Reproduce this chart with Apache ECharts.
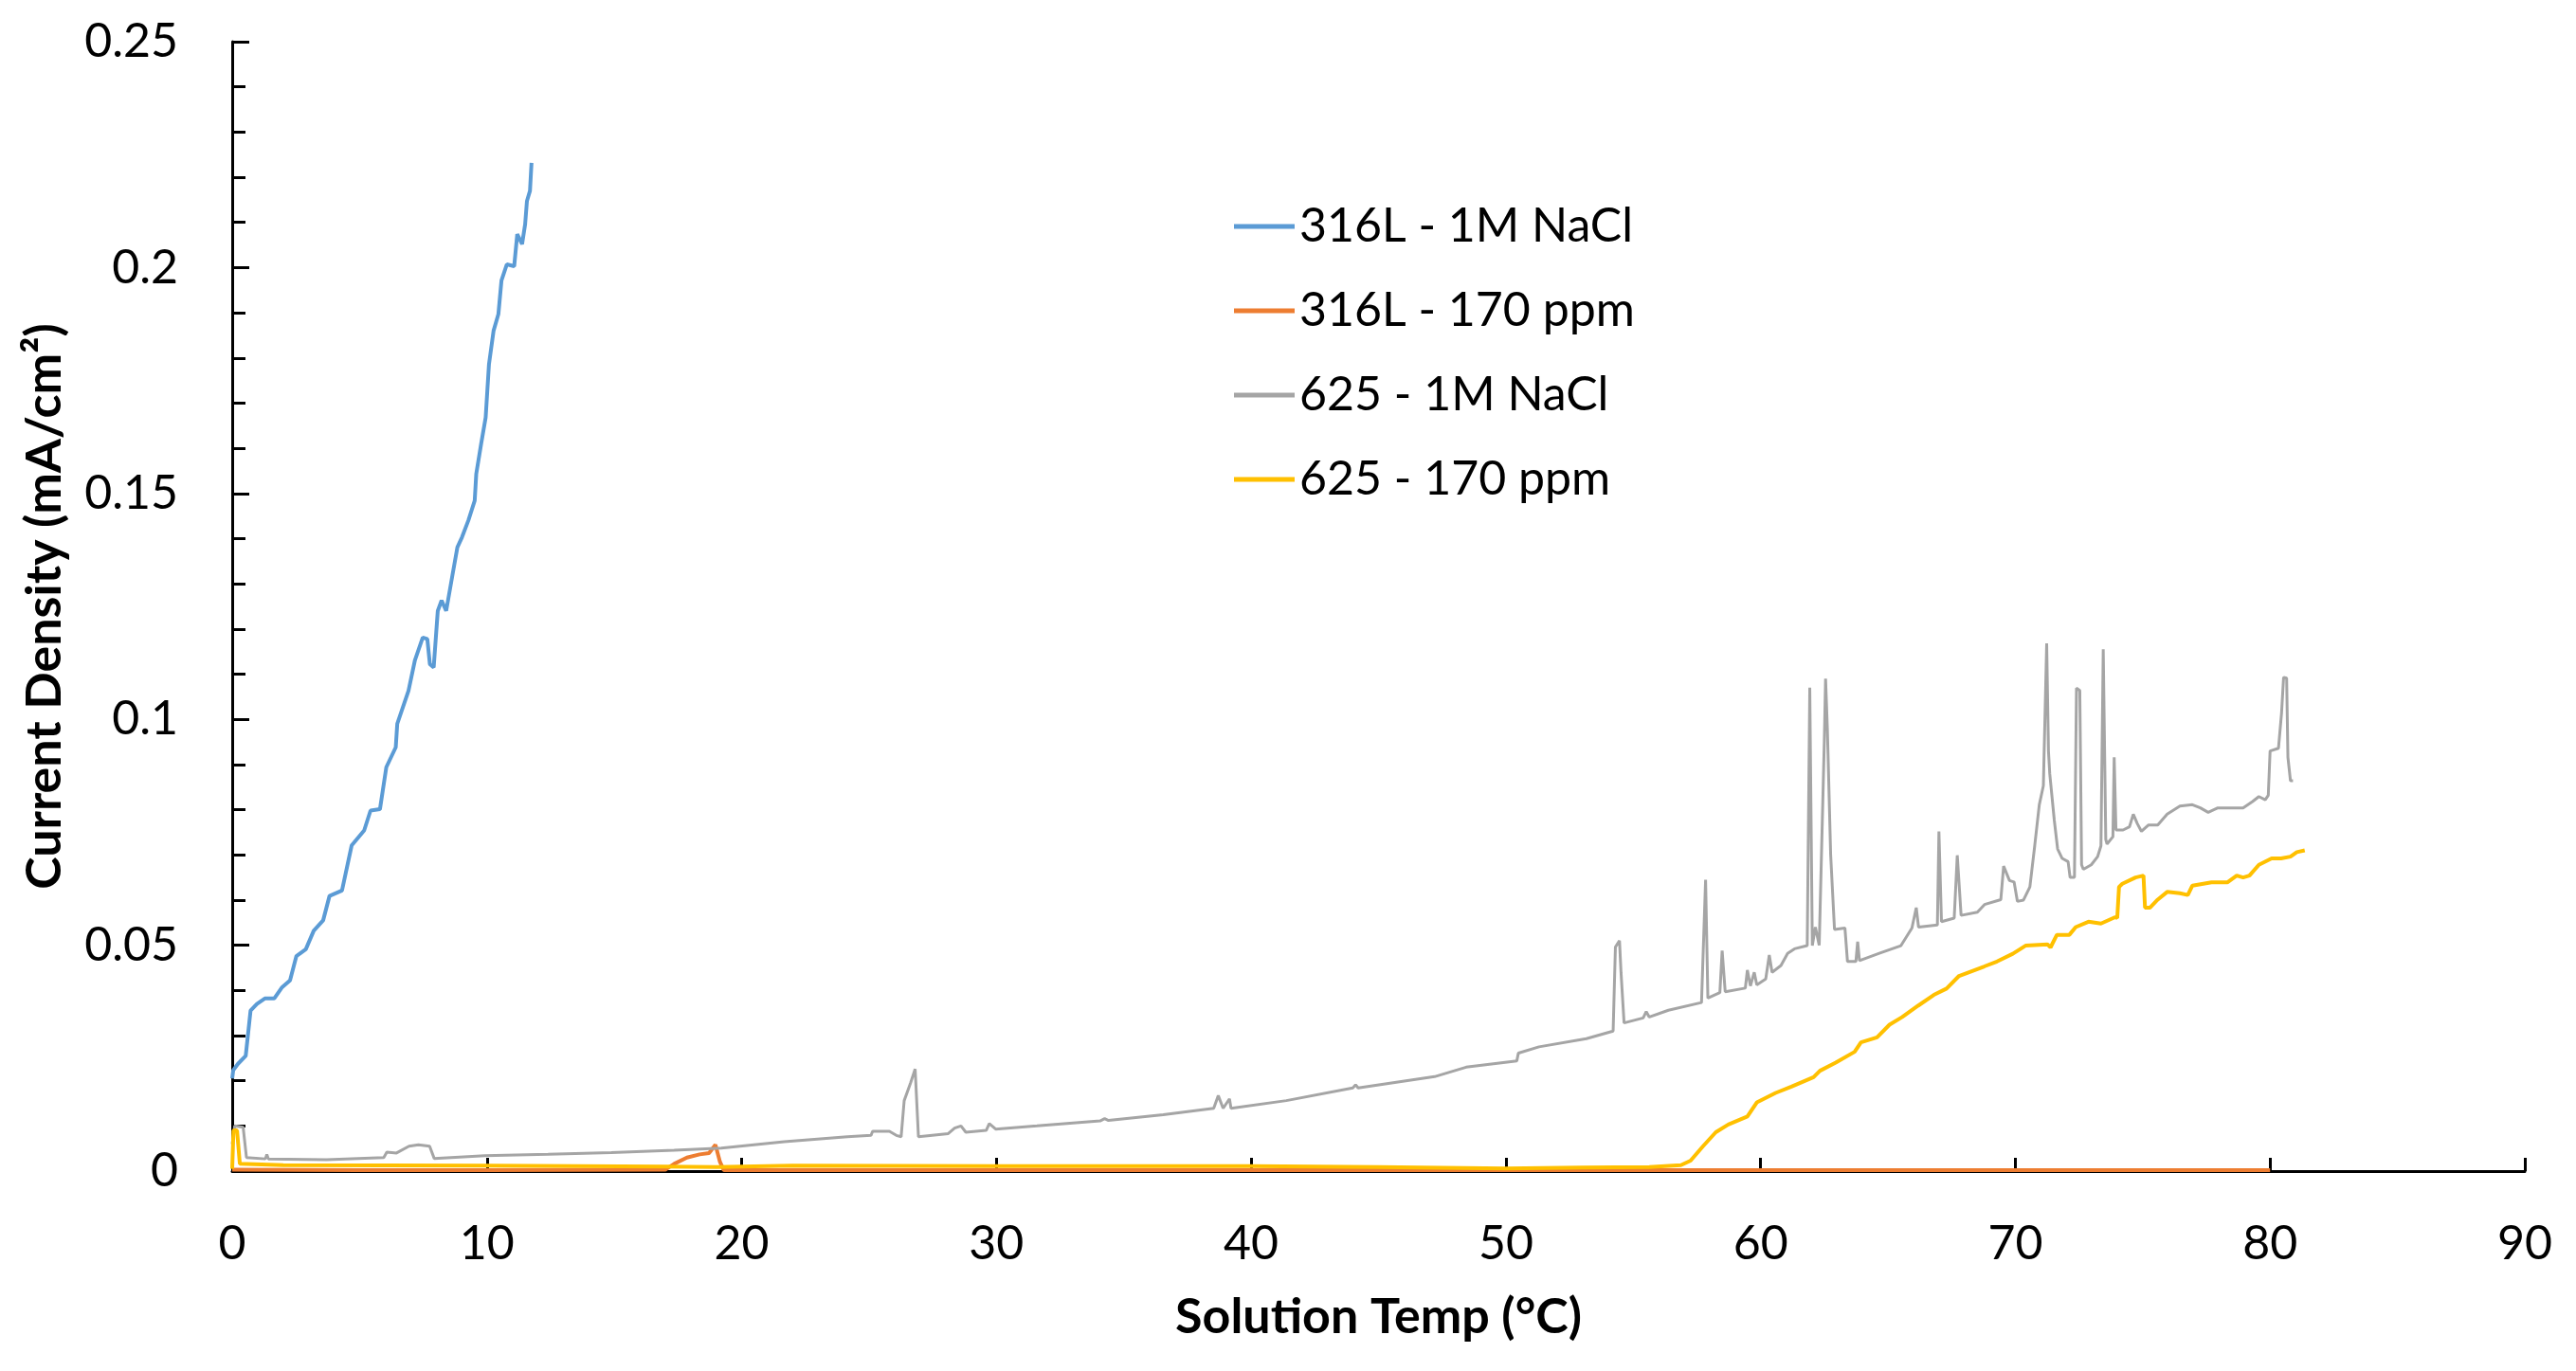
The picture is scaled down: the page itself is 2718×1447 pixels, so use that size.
<!DOCTYPE html>
<html>
<head>
<meta charset="utf-8">
<script src="https://cdn.jsdelivr.net/npm/echarts@6/dist/echarts.min.js"></script>
<style>
html,body{margin:0;padding:0;background:#fff;}
#chart{width:2718px;height:1447px;}
</style>
</head>
<body>
<div id="chart"></div>
<script>
const seriesNames = ['316L - 1M NaCl', '316L - 170 ppm', '625 - 1M NaCl', '625 - 170 ppm'];
const seriesColors = ['#5B9BD5', '#ED7D31', '#A5A5A5', '#FFC000'];

const temp316L_1M = [0.0, 0.04, 0.22, 0.53, 0.72, 0.97, 1.28, 1.65, 1.96, 2.27, 2.52, 2.89, 3.20, 3.57, 3.82, 4.31, 4.69, 5.18, 5.43, 5.80, 6.05, 6.42, 6.48, 6.92, 7.17, 7.48, 7.66, 7.76, 7.91, 8.07, 8.22, 8.40, 8.63, 8.84, 9.02, 9.27, 9.52, 9.58, 9.77, 9.95, 10.08, 10.26, 10.45, 10.57, 10.78, 11.07, 11.19, 11.38, 11.50, 11.57, 11.69, 11.75];
const cd316L_1M = [0.0205, 0.0223, 0.0237, 0.0255, 0.0355, 0.0370, 0.0382, 0.0382, 0.0407, 0.0422, 0.0476, 0.0491, 0.0532, 0.0555, 0.0609, 0.0621, 0.0721, 0.0754, 0.0798, 0.0801, 0.0894, 0.0938, 0.0990, 0.1063, 0.1130, 0.1181, 0.1178, 0.1122, 0.1115, 0.1240, 0.1263, 0.1240, 0.1314, 0.1381, 0.1403, 0.1440, 0.1484, 0.1543, 0.1609, 0.1668, 0.1786, 0.1860, 0.1897, 0.1971, 0.2007, 0.2003, 0.2074, 0.2052, 0.2096, 0.2147, 0.2170, 0.2232];

const temp316L_170 = [0, 5, 10, 17.0, 17.35, 17.85, 18.35, 18.72, 18.97, 19.15, 19.3, 30, 40, 50, 60, 70, 80];
const cd316L_170 = [0.0003, 0.0002, 0.0002, 0.0003, 0.0016, 0.0030, 0.0037, 0.0040, 0.0058, 0.0020, 0.0002, 0.0002, 0.0002, 0.0002, 0.0002, 0.0002, 0.0002];

const temp625_1M = [0, 0.1, 0.43, 0.56, 1.3, 1.36, 1.42, 3.7, 5.95, 6.07, 6.45, 6.94, 7.31, 7.75, 7.93, 9.92, 12.4, 14.88, 17.35, 19.2, 21.67, 24.15, 25.08, 25.14, 25.8, 26.07, 26.26, 26.38, 26.63, 26.81, 26.94, 28.11, 28.36, 28.61, 28.8, 29.6, 29.72, 29.97, 31.59, 34.07, 34.25, 34.4, 36.55, 38.53, 38.71, 38.9, 39.15, 39.21, 41.38, 43.99, 44.1, 44.2, 47.2, 48.44, 50.43, 50.49, 51.3, 53.16, 54.21, 54.3, 54.46, 54.52, 54.64, 55.39, 55.51, 55.63, 56.38, 57.68, 57.84, 57.93, 58.4, 58.49, 58.61, 59.4, 59.48, 59.6, 59.75, 59.85, 60.2, 60.34, 60.45, 60.8, 61.06, 61.33, 61.83, 61.93, 62.03, 62.15, 62.3, 62.5, 62.55, 62.62, 62.75, 62.9, 63.31, 63.41, 63.74, 63.81, 63.88, 64.66, 65.51, 65.94, 66.11, 66.2, 66.94, 67.0, 67.1, 67.6, 67.72, 67.87, 68.51, 68.79, 69.43, 69.54, 69.77, 69.95, 70.08, 70.32, 70.57, 70.76, 70.94, 71.1, 71.23, 71.3, 71.35, 71.53, 71.66, 71.84, 72.07, 72.15, 72.32, 72.4, 72.53, 72.6, 72.67, 72.98, 73.23, 73.36, 73.45, 73.55, 73.6, 73.83, 73.88, 73.95, 74.23, 74.48, 74.63, 74.79, 74.95, 75.22, 75.59, 75.96, 76.46, 76.95, 77.26, 77.57, 77.95, 78.44, 78.94, 79.31, 79.56, 79.81, 79.93, 80.0, 80.33, 80.45, 80.53, 80.65, 80.7, 80.8, 80.9];
const cd625_1M = [0.006, 0.0100, 0.0097, 0.0030, 0.0027, 0.0037, 0.0027, 0.0025, 0.0030, 0.0042, 0.0040, 0.0055, 0.0058, 0.0055, 0.0028, 0.0034, 0.0037, 0.0041, 0.0046, 0.0051, 0.0065, 0.0076, 0.0079, 0.0088, 0.0088, 0.0079, 0.0076, 0.0156, 0.0195, 0.0226, 0.0076, 0.0083, 0.0095, 0.0100, 0.0086, 0.0090, 0.0105, 0.0093, 0.0100, 0.0111, 0.0116, 0.0112, 0.0125, 0.0139, 0.0167, 0.0139, 0.0160, 0.0139, 0.0156, 0.0184, 0.0191, 0.0184, 0.0209, 0.0230, 0.0244, 0.0261, 0.0275, 0.0293, 0.0310, 0.0496, 0.0510, 0.0440, 0.0328, 0.0339, 0.0353, 0.0341, 0.0356, 0.0373, 0.0645, 0.0383, 0.0395, 0.0488, 0.0397, 0.0405, 0.0445, 0.0410, 0.0440, 0.0412, 0.0425, 0.0478, 0.0440, 0.0455, 0.0482, 0.0492, 0.0499, 0.1070, 0.0499, 0.0540, 0.0500, 0.0950, 0.1090, 0.0980, 0.0700, 0.0535, 0.0538, 0.0464, 0.0464, 0.0508, 0.0466, 0.0482, 0.0499, 0.0538, 0.0583, 0.0540, 0.0545, 0.0752, 0.0552, 0.0560, 0.0699, 0.0566, 0.0573, 0.0590, 0.0601, 0.0675, 0.0643, 0.0640, 0.0597, 0.0600, 0.0629, 0.0720, 0.0811, 0.0853, 0.1168, 0.0930, 0.0880, 0.0776, 0.0713, 0.0692, 0.0685, 0.0650, 0.0650, 0.1069, 0.1064, 0.0678, 0.0668, 0.0678, 0.0696, 0.0720, 0.1155, 0.0734, 0.0724, 0.0740, 0.0916, 0.0755, 0.0755, 0.0762, 0.0790, 0.0769, 0.0752, 0.0766, 0.0766, 0.0790, 0.0808, 0.0811, 0.0804, 0.0794, 0.0804, 0.0804, 0.0804, 0.0818, 0.0829, 0.0822, 0.0832, 0.0930, 0.0936, 0.1014, 0.1093, 0.1091, 0.0916, 0.0864, 0.0864];

const temp625_170 = [0, 0.05, 0.19, 0.3, 2, 10, 17, 19, 22, 30, 40, 45, 50, 53, 55.63, 56.87, 57.25, 57.74, 58.24, 58.73, 59.48, 59.85, 60.59, 61.21, 62.08, 62.33, 62.95, 63.69, 63.94, 64.57, 65.06, 65.56, 66.18, 66.8, 67.3, 67.79, 68.78, 69.28, 69.9, 70.4, 71.26, 71.38, 71.63, 72.12, 72.37, 72.87, 73.36, 73.92, 74.0, 74.07, 74.2, 74.72, 75.03, 75.09, 75.28, 75.59, 75.96, 76.46, 76.77, 76.95, 77.7, 78.32, 78.69, 78.94, 79.19, 79.56, 80.06, 80.43, 80.8, 81.05, 81.36];
const cd625_170 = [0.0005, 0.0090, 0.0090, 0.0016, 0.0013, 0.0012, 0.0010, 0.0009, 0.0012, 0.0011, 0.0011, 0.0009, 0.0006, 0.0008, 0.0009, 0.0013, 0.0023, 0.0055, 0.0086, 0.0103, 0.0121, 0.0152, 0.0173, 0.0187, 0.0208, 0.0222, 0.0240, 0.0264, 0.0285, 0.0296, 0.0324, 0.0341, 0.0366, 0.0390, 0.0404, 0.0432, 0.0453, 0.0464, 0.0481, 0.0499, 0.0502, 0.0495, 0.0523, 0.0523, 0.0540, 0.0552, 0.0548, 0.0562, 0.0560, 0.0629, 0.0636, 0.0650, 0.0654, 0.0583, 0.0583, 0.0601, 0.0618, 0.0615, 0.0611, 0.0632, 0.0639, 0.0639, 0.0654, 0.0650, 0.0654, 0.0678, 0.0692, 0.0692, 0.0696, 0.0706, 0.0710];

const xTicks = [0, 10, 20, 30, 40, 50, 60, 70, 80, 90];
const yTicks = [0, 0.05, 0.1, 0.15, 0.2, 0.25];

function zip(xs, ys) { return xs.map((x, i) => [x, ys[i]]); }

const seriesData = [
  zip(temp316L_1M, cd316L_1M),
  zip(temp316L_170, cd316L_170),
  zip(temp625_1M, cd625_1M),
  zip(temp625_170, cd625_170)
];
const lineWidths = [4, 4, 3, 4];

const FONT = 'Lato';
const chart = echarts.init(document.getElementById('chart'), null, {renderer: 'canvas'});
chart.setOption({
  animation: false,
  backgroundColor: '#ffffff',
  grid: {left: 245, right: 54, top: 44, bottom: 211, containLabel: false},
  legend: {
    orient: 'vertical',
    left: 1302,
    top: 214,
    padding: 0,
    itemGap: 39,
    itemWidth: 64,
    itemHeight: 5,
    icon: 'rect',
    data: seriesNames,
    textStyle: {fontFamily: FONT, fontSize: 50, lineHeight: 50, color: '#000'}
  },
  xAxis: {
    type: 'value',
    min: xTicks[0],
    max: xTicks[xTicks.length - 1],
    interval: 10,
    name: 'Solution Temp (°C)',
    nameLocation: 'middle',
    nameGap: 128,
    nameTextStyle: {fontFamily: FONT, fontSize: 52, fontWeight: 'bold', color: '#000'},
    axisLine: {show: true, onZero: false, lineStyle: {color: '#000', width: 3}},
    axisTick: {show: true, inside: true, length: 14, lineStyle: {color: '#000', width: 3}},
    axisLabel: {fontFamily: FONT, fontSize: 50, color: '#000', margin: 52},
    splitLine: {show: false}
  },
  yAxis: {
    type: 'value',
    min: yTicks[0],
    max: yTicks[yTicks.length - 1],
    interval: 0.05,
    name: 'Current Density (mA/cm²)',
    nameLocation: 'middle',
    nameGap: 172,
    nameRotate: 90,
    nameTextStyle: {fontFamily: FONT, fontSize: 52, fontWeight: 'bold', color: '#000'},
    axisLine: {show: true, onZero: false, lineStyle: {color: '#000', width: 3}},
    axisTick: {show: true, inside: true, length: 18, lineStyle: {color: '#000', width: 3}},
    minorTick: {show: true, splitNumber: 5, length: 14, lineStyle: {color: '#000', width: 3}},
    axisLabel: {fontFamily: FONT, fontSize: 50, color: '#000', margin: 57},
    splitLine: {show: false}
  },
  series: seriesNames.map((name, i) => ({
    name: name,
    type: 'line',
    data: seriesData[i],
    showSymbol: false,
    symbol: 'none',
    color: seriesColors[i],
    lineStyle: {color: seriesColors[i], width: lineWidths[i]},
    z: 2 + i
  }))
});
</script>
</body>
</html>
